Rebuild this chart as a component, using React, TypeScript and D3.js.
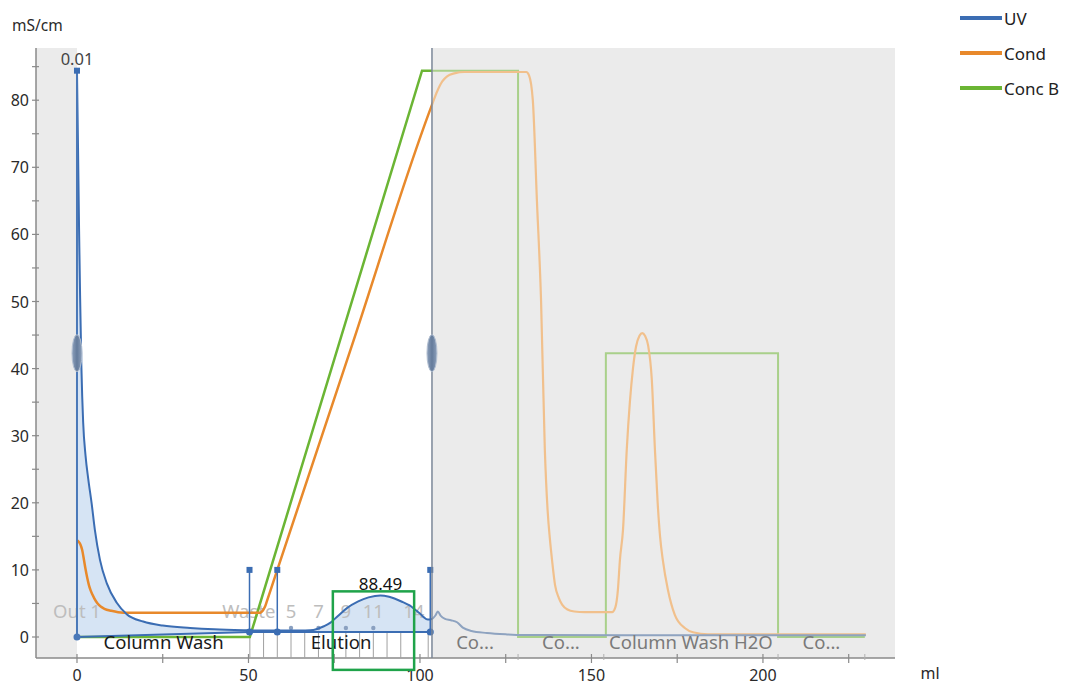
import React from "react";
import * as d3 from "d3";

// ---- chromatogram data (ml, value) ----
const uvData: [number, number][] = [
  [0, 84.4], [0.3, 73], [0.6, 61], [0.9, 51], [1.3, 40], [1.8, 32], [2.5, 27], [3.3, 23.5],
  [4.3, 19.8], [5.2, 16], [6.7, 11.5], [8.7, 8], [11.6, 5.1], [14.5, 3.4], [19.3, 2.3],
  [25, 1.7], [33, 1.35], [40, 1.15], [50.3, 1.0], [55, 0.95], [60, 0.95], [65, 0.95],
  [68, 1.0], [70, 1.2], [72, 1.6], [73.8, 2.1], [76, 3.1], [78.7, 4.3], [82, 5.3], [85, 5.9],
  [88.49, 6.2], [91, 6.0], [95, 5.2], [97, 4.7], [99, 3.9], [100, 3.5], [101, 3.0],
  [102.3, 2.6], [103.5, 2.7], [104.5, 3.2], [105.2, 3.8], [106, 3.2], [107.3, 2.7],
  [109, 2.5], [110.8, 2.2], [112.5, 1.4], [115, 0.9], [119.5, 0.6], [125, 0.4], [130, 0.3],
  [160, 0.27], [230, 0.25],
];

const condData: [number, number][] = [
  [0, 14.4], [0.5, 14.2], [1, 13.8], [1.5, 13], [2, 11.6], [2.5, 10.1], [3, 8.8], [3.5, 7.7],
  [4, 6.9], [5, 5.8], [6, 5.0], [7, 4.5], [8, 4.2], [10, 3.9], [12, 3.7], [15, 3.6], [30, 3.6],
  [53.2, 3.6], [53.7, 3.7], [54.25, 4.0], [54.8, 4.5], [55.3, 5.23], [58.4, 10], [80, 43.2],
  [103.5, 79.3], [105, 81.3], [106.5, 82.8], [108, 83.6],
  [110, 84.0], [113, 84.2], [131, 84.2], [131.8, 83.7], [132.9, 80], [134.1, 65],
  [135.3, 50.2], [136.4, 28], [137.2, 19], [137.9, 14.5], [138.5, 11.5], [139.4, 7.7],
  [140.5, 5.8], [141.5, 4.8], [143, 4.1], [145, 3.8], [148, 3.7], [156, 3.7], [157, 4.5],
  [157.7, 7], [158.3, 11.5], [159.2, 16], [160.3, 28], [161.2, 35], [162.1, 40], [163, 43.3],
  [164, 44.9], [164.8, 45.3], [165.6, 44.9], [166.5, 43.5], [167.6, 38.3], [168.5, 28],
  [169.3, 20], [170, 15], [170.8, 11.5], [172.3, 7], [174.3, 3.3], [177.3, 1.3],
  [179.6, 0.7], [184, 0.4], [230, 0.4],
];

const concBData: [number, number][] = [
  [0, 0], [50.4, 0], [100.6, 84.4], [128.6, 84.4], [128.6, 0], [154.2, 0], [154.2, 42.3],
  [204.4, 42.3], [204.4, 0], [229.7, 0],
];

// integrated peaks: start, end, baseline at start/end, retention label
const peakStarts = [0, 50.3];
const peakEnds = [50.3, 103];
const peakBaseStart = [0, 0.75];
const peakBaseEnd = [0.75, 0.75];
const peakRetention = [0.01, 88.49];

// event markers (ml) drawn as stems from baseline up to a square
const eventMarks = [50.3, 58.4, 103];
const eventTop = 10;
const eventBase = 0.75;

// fractions
const fractionStart = 50.4;
const fractionWidth = 4;
const fractionCount = 14;
const fractionLabels = ["Out 1", "Waste", "5", "7", "9", "11", "14"];
const fractionLabelPos = [0, 50.1, 62.4, 70.4, 78.4, 86.4, 98.2];

// method phases
const phaseNames = ["Column Wash", "Elution", "Co...", "Co...", "Column Wash H2O", "Co..."];
const phaseStart = [0, 50.5, 103.5, 128.6, 153.6, 204.4];
const phaseEnd = [50.5, 103.5, 128.6, 153.6, 204.4, 229.7];

const cursorLeft = 0;
const cursorRight = 103.5;

// highlighted region (ml, value)
const highlightX = [74.6, 98.3];
const highlightY = [6.8, -4.9];

const yTicks = d3.range(0, 90, 5);
const yLabels = [0, 10, 20, 30, 40, 50, 60, 70, 80];
const xTicks = [0, 25, 50, 75, 100, 125, 150, 175, 200, 225];
const xLabels = [0, 50, 100, 150, 200];

const legendNames = ["UV", "Cond", "Conc B"];
const legendColors = ["#3b6db3", "#e8892b", "#6bb534"];

const FONT = "'Segoe UI', 'Noto Sans', 'Open Sans', sans-serif";

export default function App() {
  const W = 1065, H = 688;
  const left = 36, right = 895, top = 48, bottom = 658;

  const x = d3.scaleLinear().domain([-11.95, 238.5]).range([left, right]);
  const y = d3.scaleLinear().domain([-3.13, 87.78]).range([bottom, top]);

  const line = d3.line<[number, number]>().x(d => x(d[0])).y(d => y(d[1])).curve(d3.curveMonotoneX);
  const lineLin = d3.line<[number, number]>().x(d => x(d[0])).y(d => y(d[1]));

  const uvPath = line(uvData) || "";
  const condPath = line(condData) || "";
  const concPath = lineLin(concBData) || "";

  const interp = (a: number) => {
    for (let i = 1; i < uvData.length; i++) {
      if (uvData[i][0] >= a) {
        const [x0, y0] = uvData[i - 1];
        const [x1, y1] = uvData[i];
        return y0 + ((a - x0) / (x1 - x0)) * (y1 - y0);
      }
    }
    return uvData[uvData.length - 1][1];
  };

  const peakFills = peakStarts.map((s, i) => {
    const e = peakEnds[i];
    const pts: [number, number][] = [[s, peakBaseStart[i]], [s, interp(s)]];
    uvData.forEach(p => { if (p[0] > s && p[0] < e) pts.push(p); });
    pts.push([e, interp(e)]);
    pts.push([e, peakBaseEnd[i]]);
    return pts;
  });
  const areaPath = (pts: [number, number][]) =>
    "M" + pts.map(p => `${x(p[0])},${y(p[1])}`).join("L") + "Z";

  const xc = x(cursorRight);

  return (
    <svg width={W} height={H} style={{ position: "absolute", left: 0, top: 0, background: "#fff" }}
      fontFamily={FONT}>
      <defs>
        <clipPath id="liveClip"><rect x={left} y={0} width={xc - left} height={H} /></clipPath>
        <clipPath id="previewClip"><rect x={xc} y={0} width={right - xc} height={H} /></clipPath>
        <linearGradient id="handleGrad" x1="0" x2="1" y1="0" y2="0">
          <stop offset="0" stopColor="#8da0bb" />
          <stop offset="0.5" stopColor="#647b9b" />
          <stop offset="1" stopColor="#8da0bb" />
        </linearGradient>
      </defs>

      {/* plot backgrounds outside the selected range */}
      <rect x={left} y={top} width={x(cursorLeft) - left} height={bottom - top} fill="#ebebeb" />
      <rect x={xc} y={top} width={right - xc} height={bottom - top} fill="#ebebeb" />

      {/* y axis */}
      <line x1={left} x2={left} y1={top} y2={bottom} stroke="#8a8a8a" strokeWidth={1.5} />
      {yTicks.map(t => (
        <line key={"yt" + t} x1={left - 4} x2={left + 3} y1={y(t)} y2={y(t)} stroke="#8a8a8a" strokeWidth={1.2} />
      ))}
      {yLabels.map(t => (
        <text key={"yl" + t} x={29} y={y(t)} textAnchor="end" dominantBaseline="central" fontSize={16} fill="#2a2a2a">{t}</text>
      ))}
      <text x={12} y={25} fontSize={15.5} fill="#2a2a2a" dominantBaseline="central">mS/cm</text>

      {/* x axis */}
      <line x1={left} x2={right} y1={bottom} y2={bottom} stroke="#8a8a8a" strokeWidth={1.5} />
      {xTicks.map(t => (
        <line key={"xt" + t} x1={x(t)} x2={x(t)} y1={bottom - 4} y2={bottom + 5} stroke="#8a8a8a" strokeWidth={1.2} />
      ))}
      {phaseEnd.slice(2).map((t, i) => (
        <line key={"pt" + i} x1={x(t)} x2={x(t)} y1={bottom - 4} y2={bottom + 2} stroke="#b0b0b0" strokeWidth={1} />
      ))}
      {xLabels.map(t => (
        <text key={"xl" + t} x={x(t)} y={675} textAnchor="middle" dominantBaseline="central" fontSize={16} fill="#2a2a2a">{t}</text>
      ))}
      <text x={930} y={673} textAnchor="middle" dominantBaseline="central" fontSize={16} fill="#2a2a2a">ml</text>

      {/* fraction boundaries */}
      {d3.range(fractionCount).map(k => {
        const fx = x(fractionStart + k * fractionWidth);
        return <line key={"fr" + k} x1={fx} x2={fx} y1={y(eventBase)} y2={bottom} stroke="#a0a0a0" strokeWidth={1} />;
      })}

      {/* integrated peak areas */}
      {peakFills.map((pts, i) => (
        <path key={"pk" + i} d={areaPath(pts)} fill="#cfdff2" fillOpacity={0.85} />
      ))}

      {/* fraction labels */}
      {fractionLabels.map((t, i) => (
        <text key={"fl" + i} x={x(fractionLabelPos[i])} y={610} textAnchor="middle" dominantBaseline="central"
          fontSize={18.5} fill="#bdbdbd">{t}</text>
      ))}
      {fractionLabelPos.slice(2, 6).map((p, i) => (
        <circle key={"fd" + i} cx={x(p)} cy={y(eventBase) - 4} r={2.2} fill="#8aa0c0" />
      ))}

      {/* curves: live part */}
      <g clipPath="url(#liveClip)" fill="none">
        <path d={concPath} stroke="#6bb534" strokeWidth={2.5} />
        <path d={condPath} stroke="#e8892b" strokeWidth={2.5} />
        <path d={uvPath} stroke="#3b6db3" strokeWidth={2} />
      </g>
      {/* curves: preview part */}
      <g clipPath="url(#previewClip)" fill="none">
        <path d={concPath} stroke="#a9d08a" strokeWidth={2} />
        <path d={condPath} stroke="#f1c08c" strokeWidth={2.2} />
        <path d={uvPath} stroke="#8ea3c0" strokeWidth={2} />
      </g>

      {/* peak baselines */}
      {peakStarts.map((s, i) => (
        <line key={"pb" + i} x1={x(s)} x2={x(peakEnds[i])} y1={y(peakBaseStart[i])} y2={y(peakBaseEnd[i])}
          stroke="#3b6db3" strokeWidth={2} />
      ))}

      {/* peak apex stem at first peak */}
      <line x1={x(0)} x2={x(0)} y1={y(84.4)} y2={y(0)} stroke="#4a78b8" strokeWidth={2} />
      <rect x={x(0) - 3} y={y(84.4) - 3} width={6} height={6} fill="#3b6db3" />
      <circle cx={x(0)} cy={y(0)} r={3.5} fill="#4a78b8" />

      {/* event markers */}
      {eventMarks.map((m, i) => (
        <g key={"ev" + i}>
          <line x1={x(m)} x2={x(m)} y1={y(eventTop)} y2={y(eventBase)} stroke="#3b6db3" strokeWidth={1.5} />
          <rect x={x(m) - 3} y={y(eventTop) - 3} width={6} height={6} fill="#3b6db3" />
          <circle cx={x(m)} cy={y(eventBase)} r={3.5} fill="#3b6db3" />
        </g>
      ))}

      {/* phase labels */}
      {phaseNames.map((p, i) => (
        <text key={"ph" + i} x={x((phaseStart[i] + phaseEnd[i]) / 2)} y={641} textAnchor="middle"
          dominantBaseline="central" fontSize={18.5} fill={phaseStart[i] < cursorRight ? "#1a1a1a" : "#7a7a7a"}>{p}</text>
      ))}

      {/* peak retention labels */}
      <text x={x(peakRetention[0])} y={58} textAnchor="middle" dominantBaseline="central" fontSize={16.5} fill="#444">{peakRetention[0].toFixed(2)}</text>
      <text x={x(peakRetention[1])} y={583} textAnchor="middle" dominantBaseline="central" fontSize={17} fill="#111">{peakRetention[1].toFixed(2)}</text>

      {/* range cursors */}
      <line x1={xc} x2={xc} y1={top} y2={bottom} stroke="#7b8797" strokeWidth={1.5} />
      <ellipse cx={x(cursorLeft)} cy={y(42.3)} rx={5} ry={18.5} fill="url(#handleGrad)" stroke="#b3c0d2" strokeWidth={1} />
      <ellipse cx={xc} cy={y(42.3)} rx={5} ry={18.5} fill="url(#handleGrad)" stroke="#b3c0d2" strokeWidth={1} />

      {/* highlight box */}
      <rect x={x(highlightX[0])} y={y(highlightY[0])} width={x(highlightX[1]) - x(highlightX[0])}
        height={y(highlightY[1]) - y(highlightY[0])} fill="none" stroke="#1fa34a" strokeWidth={2.5} />

      {/* legend */}
      {legendNames.map((n, i) => (
        <g key={"lg" + i}>
          <line x1={960} x2={1002} y1={18 + i * 35} y2={18 + i * 35} stroke={legendColors[i]} strokeWidth={4} />
          <text x={1004} y={18 + i * 35} dominantBaseline="central" fontSize={17} fill="#222">{n}</text>
        </g>
      ))}
    </svg>
  );
}
